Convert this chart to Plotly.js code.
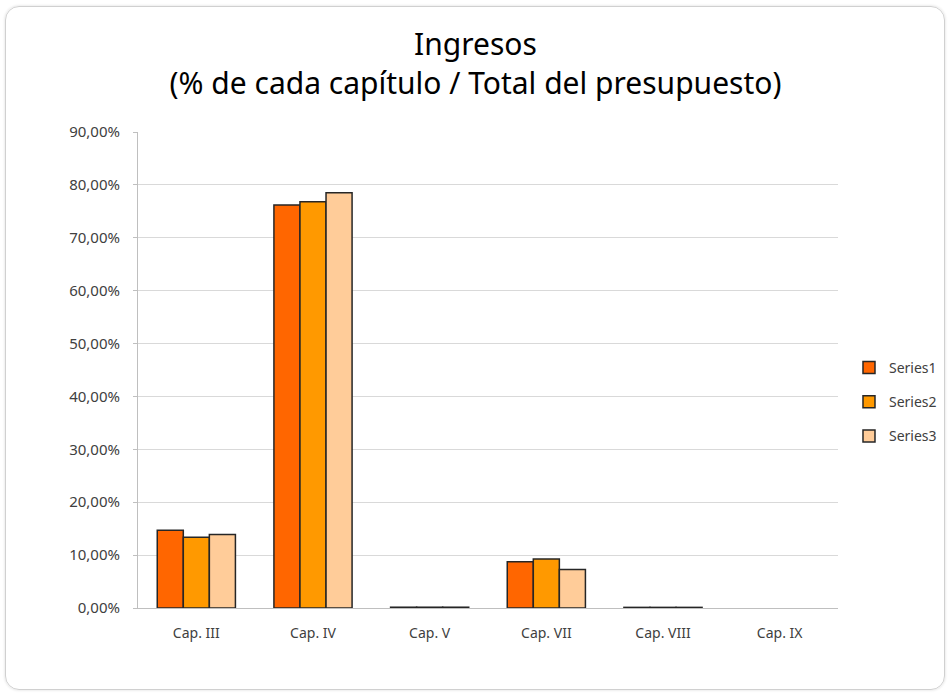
<!DOCTYPE html>
<html><head><meta charset="utf-8">
<script src="https://cdn.plot.ly/plotly-3.0.1.min.js"></script>
<style>
html,body{margin:0;padding:0;background:#fff;}
#frame{position:absolute;left:5px;top:6px;width:938px;height:682px;border:1.5px solid #d0d0d0;border-radius:14px;box-shadow:0 0 3px rgba(0,0,0,0.15);overflow:hidden;}
#chart{position:absolute;left:-5px;top:-6px;width:949px;height:693px;}
</style></head>
<body>
<div id="frame"><div id="chart"></div></div>
<script>
const categories = ['Cap. III','Cap. IV','Cap. V','Cap. VII','Cap. VIII','Cap. IX'];
const seriesNames = ['Series1','Series2','Series3'];
const series1 = [14.7, 76.2, 0.15, 8.75, 0.12, 0];
const series2 = [13.4, 76.8, 0.15, 9.25, 0.12, 0];
const series3 = [13.9, 78.5, 0.15, 7.3, 0.12, 0];
const colors = ['#ff6600','#ff9900','#ffcc99'];
const allSeries = [series1, series2, series3];
const yTicks = [0,10,20,30,40,50,60,70,80,90];
const yTickText = yTicks.map(v => v.toFixed(2).replace('.', ',') + '%');

const font = '"Noto Sans", sans-serif';
const traces = allSeries.map((vals, i) => ({
  type: 'bar', name: seriesNames[i], x: categories, y: vals,
  legendgroup: 'g' + i,
  marker: {color: colors[i], line: {color: '#262626', width: vals.map(v => v === 0 ? 0 : 1.5)}}
}));

const layout = {
  width: 949, height: 693,
  margin: {l: 137, r: 112, t: 131, b: 86, autoexpand: false},
  paper_bgcolor: 'rgba(0,0,0,0)', plot_bgcolor: '#fff',
  title: {text: 'Ingresos<br>(% de cada capítulo / Total del presupuesto)',
          font: {family: font, size: 30, color: '#000'}, x: 0.5, xanchor: 'center', y: 0.922, yanchor: 'middle'},
  barmode: 'group', bargap: 0.33, bargroupgap: 0,
  xaxis: {type: 'category', showline: true, linecolor: '#bfbfbf', linewidth: 1,
          ticks: '', tickfont: {family: font, size: 14, color: '#404040'}, showgrid: false, ticklabelstandoff: 12},
  yaxis: {range: [0, 90], tickvals: yTicks, ticktext: yTickText, showgrid: true, gridcolor: '#d9d9d9', gridwidth: 1,
          showline: true, linecolor: '#bfbfbf', linewidth: 1, ticks: 'outside', ticklen: 4, tickcolor: '#bfbfbf',
          tickfont: {family: font, size: 15, color: '#404040'}, zeroline: false, ticklabelstandoff: 10},
  showlegend: true,
  legend: {x: 1.0157, xanchor: 'left', y: 0.433, yanchor: 'middle', tracegroupgap: 13,
           font: {family: font, size: 14, color: '#404040'}, bgcolor: 'rgba(0,0,0,0)', itemwidth: 30}
};
Plotly.newPlot('chart', traces, layout, {displayModeBar: false, staticPlot: true});
</script>
</body></html>
